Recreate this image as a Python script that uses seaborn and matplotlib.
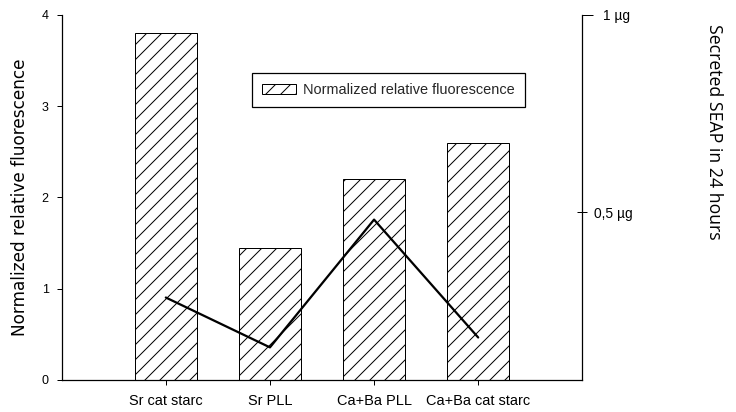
import matplotlib
matplotlib.use("Agg")
import matplotlib.pyplot as plt
import seaborn as sns
import numpy as np
import pandas as pd

# ---- data ----
categories = ["Sr cat starc", "Sr PLL", "Ca+Ba PLL", "Ca+Ba cat starc"]
fluorescence = [3.80, 1.45, 2.20, 2.60]
seap_ug = [0.285, 0.159, 0.482, 0.184]
left_ticks = [0, 1, 2, 3, 4]
right_major = [1.0]
right_major_labels = ["1 µg"]
right_minor = [0.5]
right_minor_labels = ["0,5 µg"]

sns.set_theme(style="white")
plt.rcParams["font.family"] = ["Liberation Sans", "DejaVu Sans"]
plt.rcParams["hatch.linewidth"] = 0.8
plt.rcParams["hatch.color"] = "black"

DPI = 90
W, H = 736, 412
fig = plt.figure(figsize=(W / DPI, H / DPI), dpi=DPI)
x0, x1, y0, y1 = 61.7, 582.3, 14.7, 380.0
ax = fig.add_axes([x0 / W, 1 - y1 / H, (x1 - x0) / W, (y1 - y0) / H])

df = pd.DataFrame({"category": categories, "fluorescence": fluorescence})
sns.barplot(data=df, x="category", y="fluorescence", ax=ax, color="white",
            edgecolor="black", linewidth=0.8, width=0.6, saturation=1,
            label="Normalized relative fluorescence")
for p in ax.patches:
    p.set_hatch("//")
if ax.get_legend() is not None:
    ax.get_legend().remove()

ax.set_xlim(-1, 4)
ax.set_ylim(0, 4)
ax.set_yticks(left_ticks)
ax.set_xlabel("")
ax.set_ylabel("Normalized relative fluorescence", fontsize=13.5, color="black",
              family=["DejaVu Sans"])
ax.yaxis.set_label_coords((29 - x0) / (x1 - x0), 0.5)
for s in ["top", "right"]:
    ax.spines[s].set_visible(False)
for s in ["left", "bottom"]:
    ax.spines[s].set_color("black")
    ax.spines[s].set_linewidth(1.0)
ax.tick_params(axis="y", left=True, direction="out", length=4, width=0.8,
               color="black", labelsize=10, labelcolor="black", pad=6.5)
ax.tick_params(axis="x", bottom=True, direction="out", length=4, width=0.8,
               color="black", labelsize=11.6, labelcolor="black", pad=7)

ax2 = ax.twinx()
sns.lineplot(x=np.arange(len(categories)), y=seap_ug, ax=ax2, color="black",
             linewidth=1.8)
ax2.set_xlim(-1, 4)
ax2.set_ylim(0.0765, 1.0)
ax2.set_yticks(right_major)
ax2.set_yticklabels(right_major_labels)
ax2.set_yticks(right_minor, minor=True)
ax2.set_yticklabels(right_minor_labels, minor=True)
ax2.set_ylabel("")
for s in ["top", "left", "bottom"]:
    ax2.spines[s].set_visible(False)
ax2.spines["right"].set_color("black")
ax2.spines["right"].set_linewidth(1.0)
ax2.tick_params(axis="y", which="major", right=True, direction="out",
                length=8.8, width=0.8, color="black", labelsize=11,
                labelcolor="black", pad=8)
ax2.tick_params(axis="y", which="minor", right=True, direction="inout",
                length=8, width=0.8, color="black", labelsize=11,
                labelcolor="black", pad=5)
ax2.grid(False)

handles, labels = ax.get_legend_handles_labels()
leg = ax2.legend(handles, labels, loc="upper left",
                 bbox_to_anchor=(252 / W, 1 - 73 / H),
                 bbox_transform=fig.transFigure, frameon=True, fancybox=False,
                 edgecolor="black", framealpha=1, borderaxespad=0,
                 borderpad=0.7, handlelength=2.3, handleheight=0.7,
                 handletextpad=0.55, fontsize=11.6)
leg.get_frame().set_linewidth(1.0)

fig.text(714 / W, 1 - 132 / H, "Secreted SEAP in 24 hours", rotation=270,
         ha="center", va="center", fontsize=14.1,
         family=["Open Sans", "DejaVu Sans"], color="black")

fig.savefig("out.png", dpi=DPI)
